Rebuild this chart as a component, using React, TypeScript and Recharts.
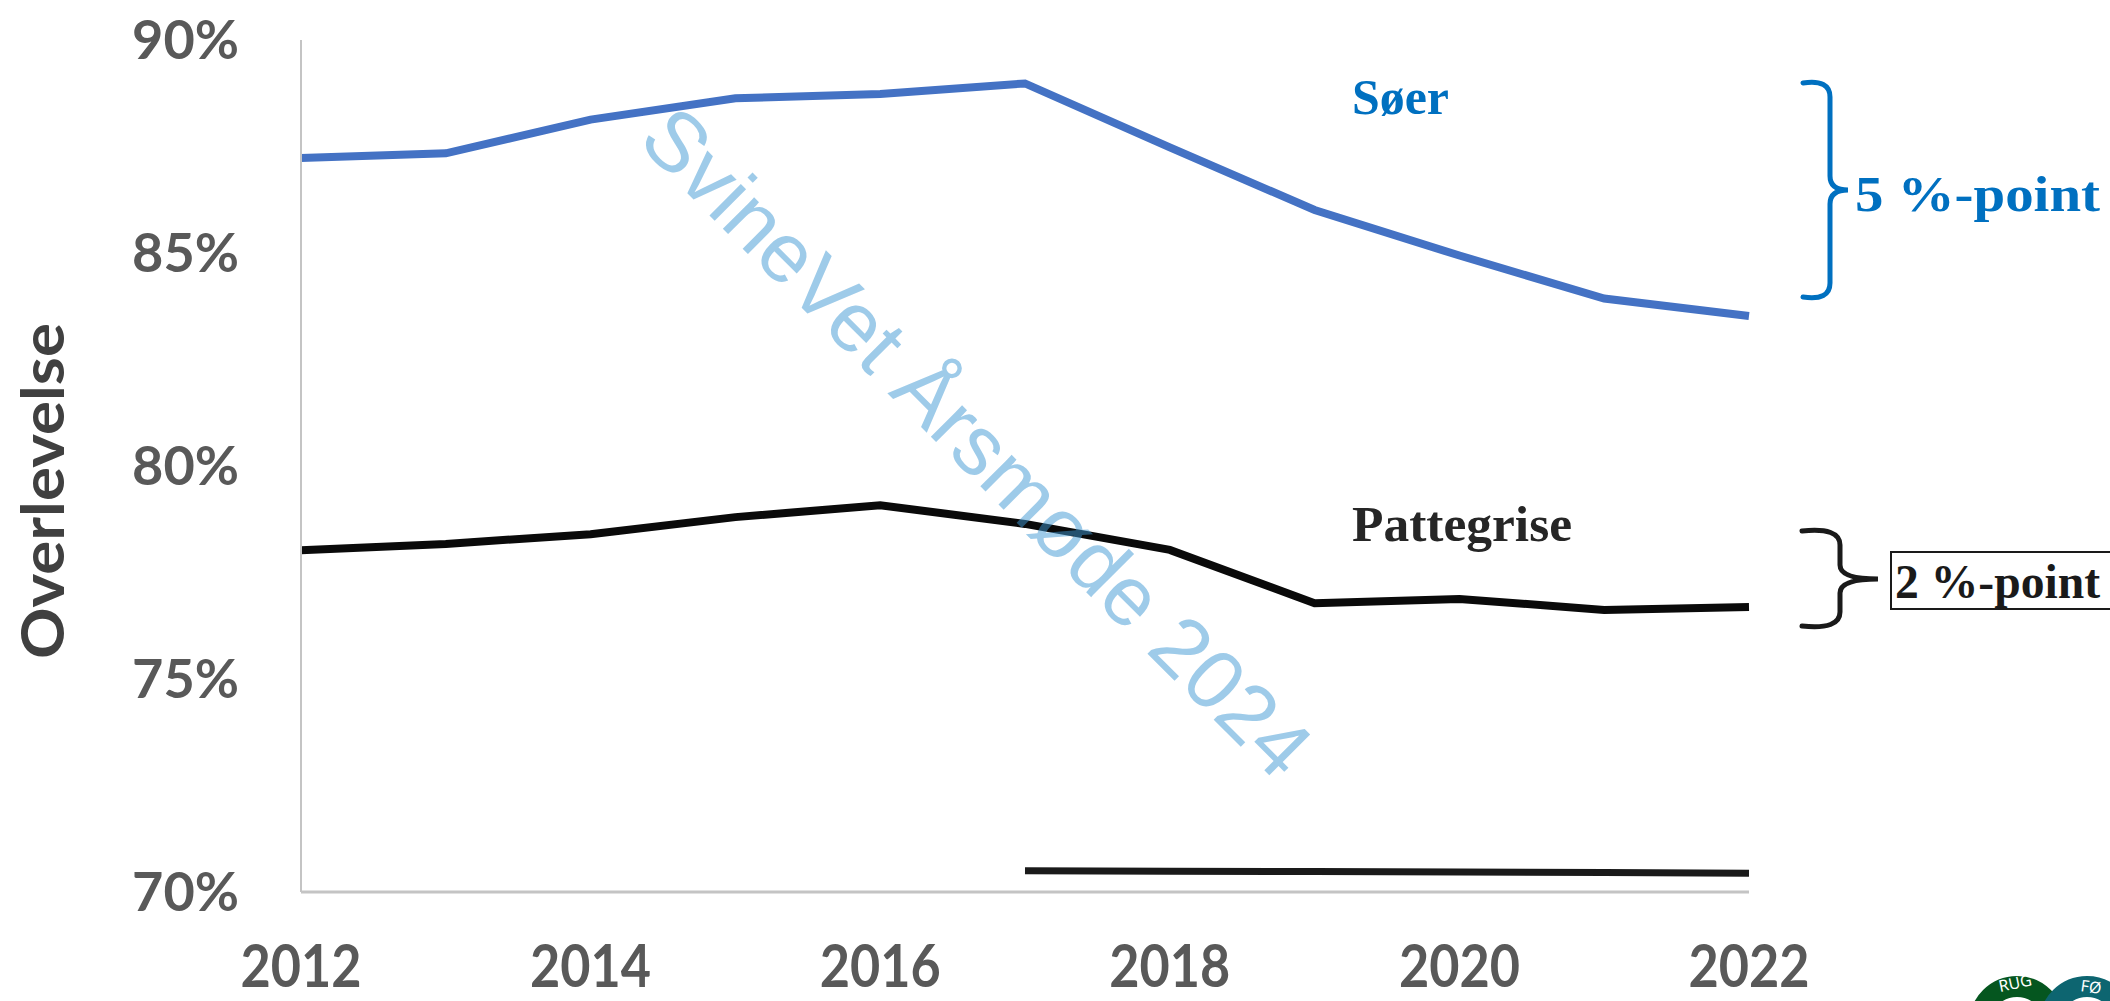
import React from 'react';
import { LineChart, Line, XAxis, YAxis } from 'recharts';

// (overlevelse i %)
const years = [2012, 2013, 2014, 2015, 2016, 2017, 2018, 2019, 2020, 2021, 2022];
const soer = [87.23, 87.34, 88.13, 88.63, 88.73, 88.98, 87.48, 86.01, 84.94, 83.93, 83.52];
const pattegrise = [78.02, 78.17, 78.4, 78.8, 79.08, 78.64, 78.03, 76.78, 76.88, 76.62, 76.69];
const bundlinje = [null, null, null, null, null, 70.5, 70.49, 70.48, 70.47, 70.46, 70.44];

const xTicks = [2012, 2014, 2016, 2018, 2020, 2022];
const yTicks = [70, 75, 80, 85, 90];

const data = years.map((year, i) => ({
  year,
  soer: soer[i],
  pattegrise: pattegrise[i],
  bund: bundlinje[i],
}));

const XTick = (props: any) => {
  const { x, y, payload } = props;
  return (
    <text
      x={x}
      y={y + 95}
      textAnchor="middle"
      fill="#595959"
      fontSize={60}
      fontWeight={700}
      fontFamily="Lato, sans-serif"
      textLength={121}
      lengthAdjust="spacingAndGlyphs"
    >
      {payload.value}
    </text>
  );
};

const YTick = (props: any) => {
  const { x, y, payload } = props;
  return (
    <text
      x={x - 62}
      y={y}
      dy="0.36em"
      textAnchor="end"
      fill="#595959"
      fontSize={54}
      fontWeight={700}
      fontFamily="Lato, sans-serif"
    >
      {payload.value}%
    </text>
  );
};

const serif = '"Liberation Serif", "Times New Roman", serif';

const App = () => {
  return (
    <div
      style={{
        position: 'absolute',
        left: 0,
        top: 0,
        width: 2110,
        height: 1001,
        background: '#fff',
        overflow: 'hidden',
      }}
    >
      <LineChart
        width={2110}
        height={1001}
        data={data}
        margin={{ top: 40, right: 361, bottom: 49, left: 201 }}
      >
        <XAxis
          dataKey="year"
          type="number"
          domain={[2012, 2022]}
          ticks={xTicks}
          height={60}
          tickLine={false}
          tickSize={0}
          tickMargin={0}
          axisLine={{ stroke: '#C4C4C4', strokeWidth: 3 }}
          tick={<XTick />}
        />
        <YAxis
          type="number"
          domain={[70, 90]}
          ticks={yTicks}
          width={100}
          tickLine={false}
          tickSize={0}
          tickMargin={0}
          axisLine={{ stroke: '#C4C4C4', strokeWidth: 2 }}
          tick={<YTick />}
        />
        <Line
          type="linear"
          dataKey="soer"
          stroke="#4472C4"
          strokeWidth={8}
          dot={false}
          isAnimationActive={false}
        />
        <Line
          type="linear"
          dataKey="pattegrise"
          stroke="#0a0a0a"
          strokeWidth={8}
          dot={false}
          isAnimationActive={false}
        />
        <Line
          type="linear"
          dataKey="bund"
          stroke="#1a1a1a"
          strokeWidth={7}
          strokeLinecap="butt"
          dot={false}
          isAnimationActive={false}
        />
      </LineChart>

      {/* tekster, klammer, vandmærke og logo */}
      <svg
        width={2110}
        height={1001}
        style={{ position: 'absolute', left: 0, top: 0, pointerEvents: 'none' }}
      >
        <text
          x={41}
          y={491}
          transform="rotate(-90 41 491)"
          textAnchor="middle"
          dominantBaseline="central"
          fill="#404040"
          fontSize={60}
          fontWeight={700}
          fontFamily="Lato, sans-serif"
          textLength={336}
          lengthAdjust="spacingAndGlyphs"
        >
          Overlevelse
        </text>

        <text x={1352} y={114} fill="#0070C0" fontSize={50} fontWeight={700} fontFamily={serif}
          textLength={97} lengthAdjust="spacingAndGlyphs">
          Søer
        </text>
        <text x={1352} y={541} fill="#262626" fontSize={50} fontWeight={700} fontFamily={serif}
          textLength={220} lengthAdjust="spacingAndGlyphs">
          Pattegrise
        </text>

        <path
          d="M1803,83 Q1830,79 1830,97 L1830,176 Q1830,190 1848,190 Q1830,190 1830,204 L1830,283 Q1830,301 1803,297"
          fill="none"
          stroke="#0070C0"
          strokeWidth={5}
          strokeLinecap="round"
        />
        <text x={1855} y={211} fill="#0070C0" fontSize={50} fontWeight={700} fontFamily={serif}
          textLength={245} lengthAdjust="spacingAndGlyphs">
          5 %-point
        </text>

        <path
          d="M1802,531 Q1840,527 1840,545 L1840,565 Q1840,579 1878,579 Q1840,579 1840,593 L1840,612 Q1840,630 1802,626"
          fill="none"
          stroke="#1a1a1a"
          strokeWidth={5}
          strokeLinecap="round"
        />
        <rect x={1891} y={552} width={240} height={57} fill="#fff" stroke="#1a1a1a" strokeWidth={2} />
        <text x={1895} y={598} fill="#1a1a1a" fontSize={48} fontWeight={700} fontFamily={serif}
          textLength={205} lengthAdjust="spacingAndGlyphs">
          2 %-point
        </text>

        <text
          x={977}
          y={442}
          transform="rotate(45 977 442)"
          textAnchor="middle"
          dominantBaseline="central"
          fill="#3D98D4"
          fillOpacity={0.5}
          fontSize={84}
          fontFamily='"Liberation Sans", Arial, sans-serif'
        >
          SvineVet Årsmøde 2024
        </text>

        <g>
          <circle cx={2017} cy={1024} r={37.5} fill="none" stroke="#05561F" strokeWidth={21} />
          <circle cx={2087} cy={1024} r={37.5} fill="none" stroke="#0D6570" strokeWidth={21} />
          <text x={2000} y={992} fill="#fff" fontSize={16} fontFamily="Noto Sans, sans-serif"
            transform="rotate(-12 2000 992)">RUG</text>
          <text x={2080} y={991} fill="#fff" fontSize={16} fontFamily="Noto Sans, sans-serif"
            transform="rotate(8 2080 991)">FØ</text>
        </g>
      </svg>
    </div>
  );
};

export default App;
